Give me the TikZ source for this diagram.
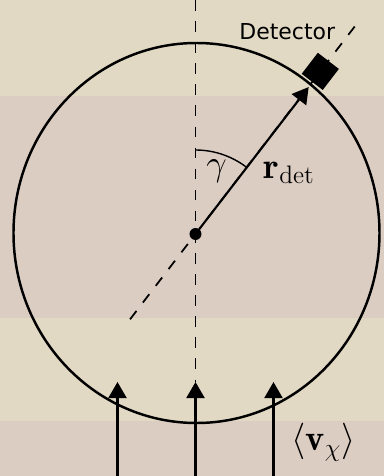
\documentclass[tikz,border=0pt]{standalone}
\usepackage{fontspec}
\newfontfamily\detfont{DejaVu Sans}
\usetikzlibrary{arrows.meta}
\definecolor{bgpale}{RGB}{225,217,195}
\definecolor{bgrose}{RGB}{220,205,195}

\begin{document}
\begin{tikzpicture}[
    rim/.style={draw=black, line width=1.4pt},
    axis/.style={draw=black, line width=1pt, dash pattern=on 6pt off 6pt},
    flow/.style={draw=black, line width=1.2pt, -{Triangle[length=0.32cm, width=0.36cm]}},
    lbl/.style={inner sep=0pt, font=\huge}
]
    \fill[bgpale] (-3.91,-4.84) rectangle (3.77,4.68);
    \fill[bgrose] (-3.91,2.76) rectangle (3.77,-1.68);
    \fill[bgrose] (-3.91,-3.74) rectangle (3.77,-4.84);
    \useasboundingbox (-3.91,-4.84) rectangle (3.77,4.68);

    \node[circle, fill=black, inner sep=0pt, minimum size=0.24cm] (o) at (0,0) {};
    \coordinate (top) at (0,4.68);
    \coordinate (low) at (232.5:2.15);
    \coordinate (high) at (52.5:5.42);
    \coordinate (tip) at (52.4:3.71);

    \draw[rim] (0.02,0.02) ellipse [x radius=3.66, y radius=3.8];
    \draw[axis] (low) -- (high);
    \node[rectangle, fill=black, minimum size=0.53cm, inner sep=0pt, rotate=-37.5] (det) at (52.5:4.1) {};
    \draw[flow] (o) -- (tip);

    \foreach \x/\nm in {-1.56/left, 0/mid, 1.56/right} {
        \coordinate (\nm foot) at (\x,-4.84);
        \coordinate (\nm head) at (\x,-2.96);
        \draw[flow] (\nm foot) -- (\nm head);
    }
    \draw[axis] (top) -- (midhead);

    \draw[line width=0.8pt] ([shift={(90:1.68)}]o.center) arc[start angle=90, end angle=53, radius=1.68];

    \node[lbl] (gam) at (0.42,1.25) {$\gamma$};
    \node[lbl, anchor=base west] (rdet) at (1.356,1.113) {$\mathbf{r}_{\mathrm{det}}$};
    \node[lbl] (vchi) at (2.56,-4.17) {$\langle\mathbf{v}_\chi\rangle$};
    \node[font=\detfont\fontsize{12.5}{14}\selectfont, inner sep=0pt, anchor=base] (dettxt) at (1.836,3.894) {Detector};
\end{tikzpicture}
\end{document}
